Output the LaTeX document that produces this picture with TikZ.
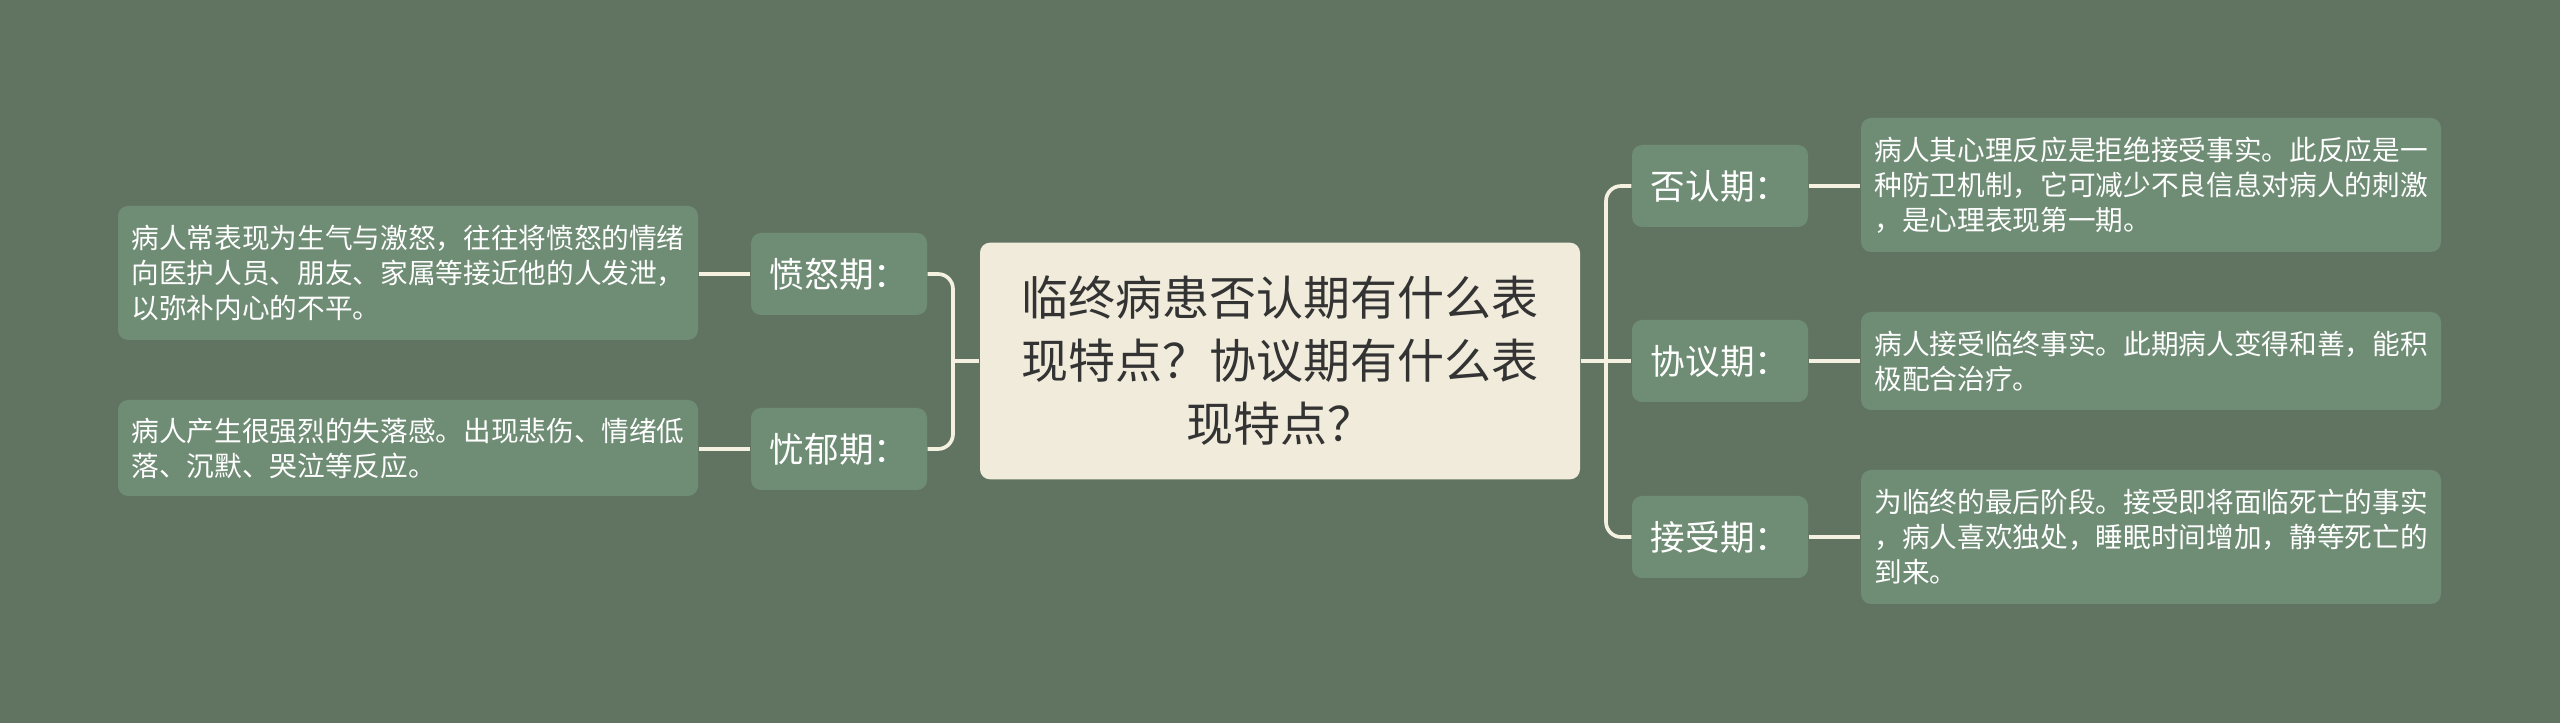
\documentclass[tikz,border=0pt]{standalone}
\usepackage{fontspec}
\setmainfont{Noto Sans CJK SC}
\definecolor{bgcol}{HTML}{617462}
\definecolor{boxcol}{HTML}{6F8C75}
\definecolor{rootcol}{HTML}{F0EBDB}
\definecolor{linecol}{HTML}{F5F1E0}
\definecolor{rootfont}{HTML}{333333}
\tikzset{
  rootbox/.style={fill=rootcol, rounded corners=3pt, text=rootfont, align=center,
    minimum width=180pt, minimum height=71pt, font=\fontsize{14.1pt}{18.9pt}\selectfont},
  phase/.style={fill=boxcol, rounded corners=3pt, text=white,
    minimum width=52.8pt, minimum height=24.6pt, font=\fontsize{10.4pt}{12pt}\selectfont},
  leaf/.style={fill=boxcol, rounded corners=3pt, text=white, align=left,
    minimum width=174pt, font=\fontsize{8.3pt}{10.5pt}\selectfont},
  link/.style={draw=linecol, line width=1.1pt, rounded corners=4.5pt}
}
\begin{document}
\begin{tikzpicture}[x=0.3pt, y=-0.3pt]
\fill[bgcol] (0,0) rectangle (2560,723);
\useasboundingbox (0,0) rectangle (2560,723);

\node[rootbox] (root) at (1280,361) {临终病患否认期有什么表\\现特点？协议期有什么表\\现特点？};

% left side
\node[phase] (anger) at (839,274) {愤怒期：};
\node[phase] (grief) at (839,449) {忧郁期：};
\node[leaf, minimum height=40.2pt] (angertxt) at (408,273) {病人常表现为生气与激怒，往往将愤怒的情绪\\向医护人员、朋友、家属等接近他的人发泄，\\以弥补内心的不平。};
\node[leaf, minimum height=28.8pt] (grieftxt) at (408,448) {病人产生很强烈的失落感。出现悲伤、情绪低\\落、沉默、哭泣等反应。};

% right side
\node[phase] (deny) at (1720,186) {否认期：};
\node[phase] (bargain) at (1720,361) {协议期：};
\node[phase] (accept) at (1720,537) {接受期：};
\node[leaf, minimum height=40.2pt] (denytxt) at (2151,185) {病人其心理反应是拒绝接受事实。此反应是一\\种防卫机制，它可减少不良信息对病人的刺激\\，是心理表现第一期。};
\node[leaf, minimum height=29.4pt] (bargaintxt) at (2151,361) {病人接受临终事实。此期病人变得和善，能积\\极配合治疗。};
\node[leaf, minimum height=40.2pt] (accepttxt) at (2151,537) {为临终的最后阶段。接受即将面临死亡的事实\\，病人喜欢独处，睡眠时间增加，静等死亡的\\到来。};

\coordinate (bl) at (953,361);
\coordinate (br) at (1606,361);

\draw[link] (root.west) -- (bl);
\draw[link] (anger.east) -| (bl) |- (grief.east);
\draw[link] (root.east) -- (br);
\draw[link] (deny.west) -| (br) |- (accept.west);
\draw[link] (br) -- (bargain.west);

\draw[link] (anger.west) -- (anger.west -| angertxt.east);
\draw[link] (grief.west) -- (grief.west -| grieftxt.east);
\draw[link] (deny.east) -- (deny.east -| denytxt.west);
\draw[link] (bargain.east) -- (bargain.east -| bargaintxt.west);
\draw[link] (accept.east) -- (accept.east -| accepttxt.west);
\end{tikzpicture}
\end{document}
